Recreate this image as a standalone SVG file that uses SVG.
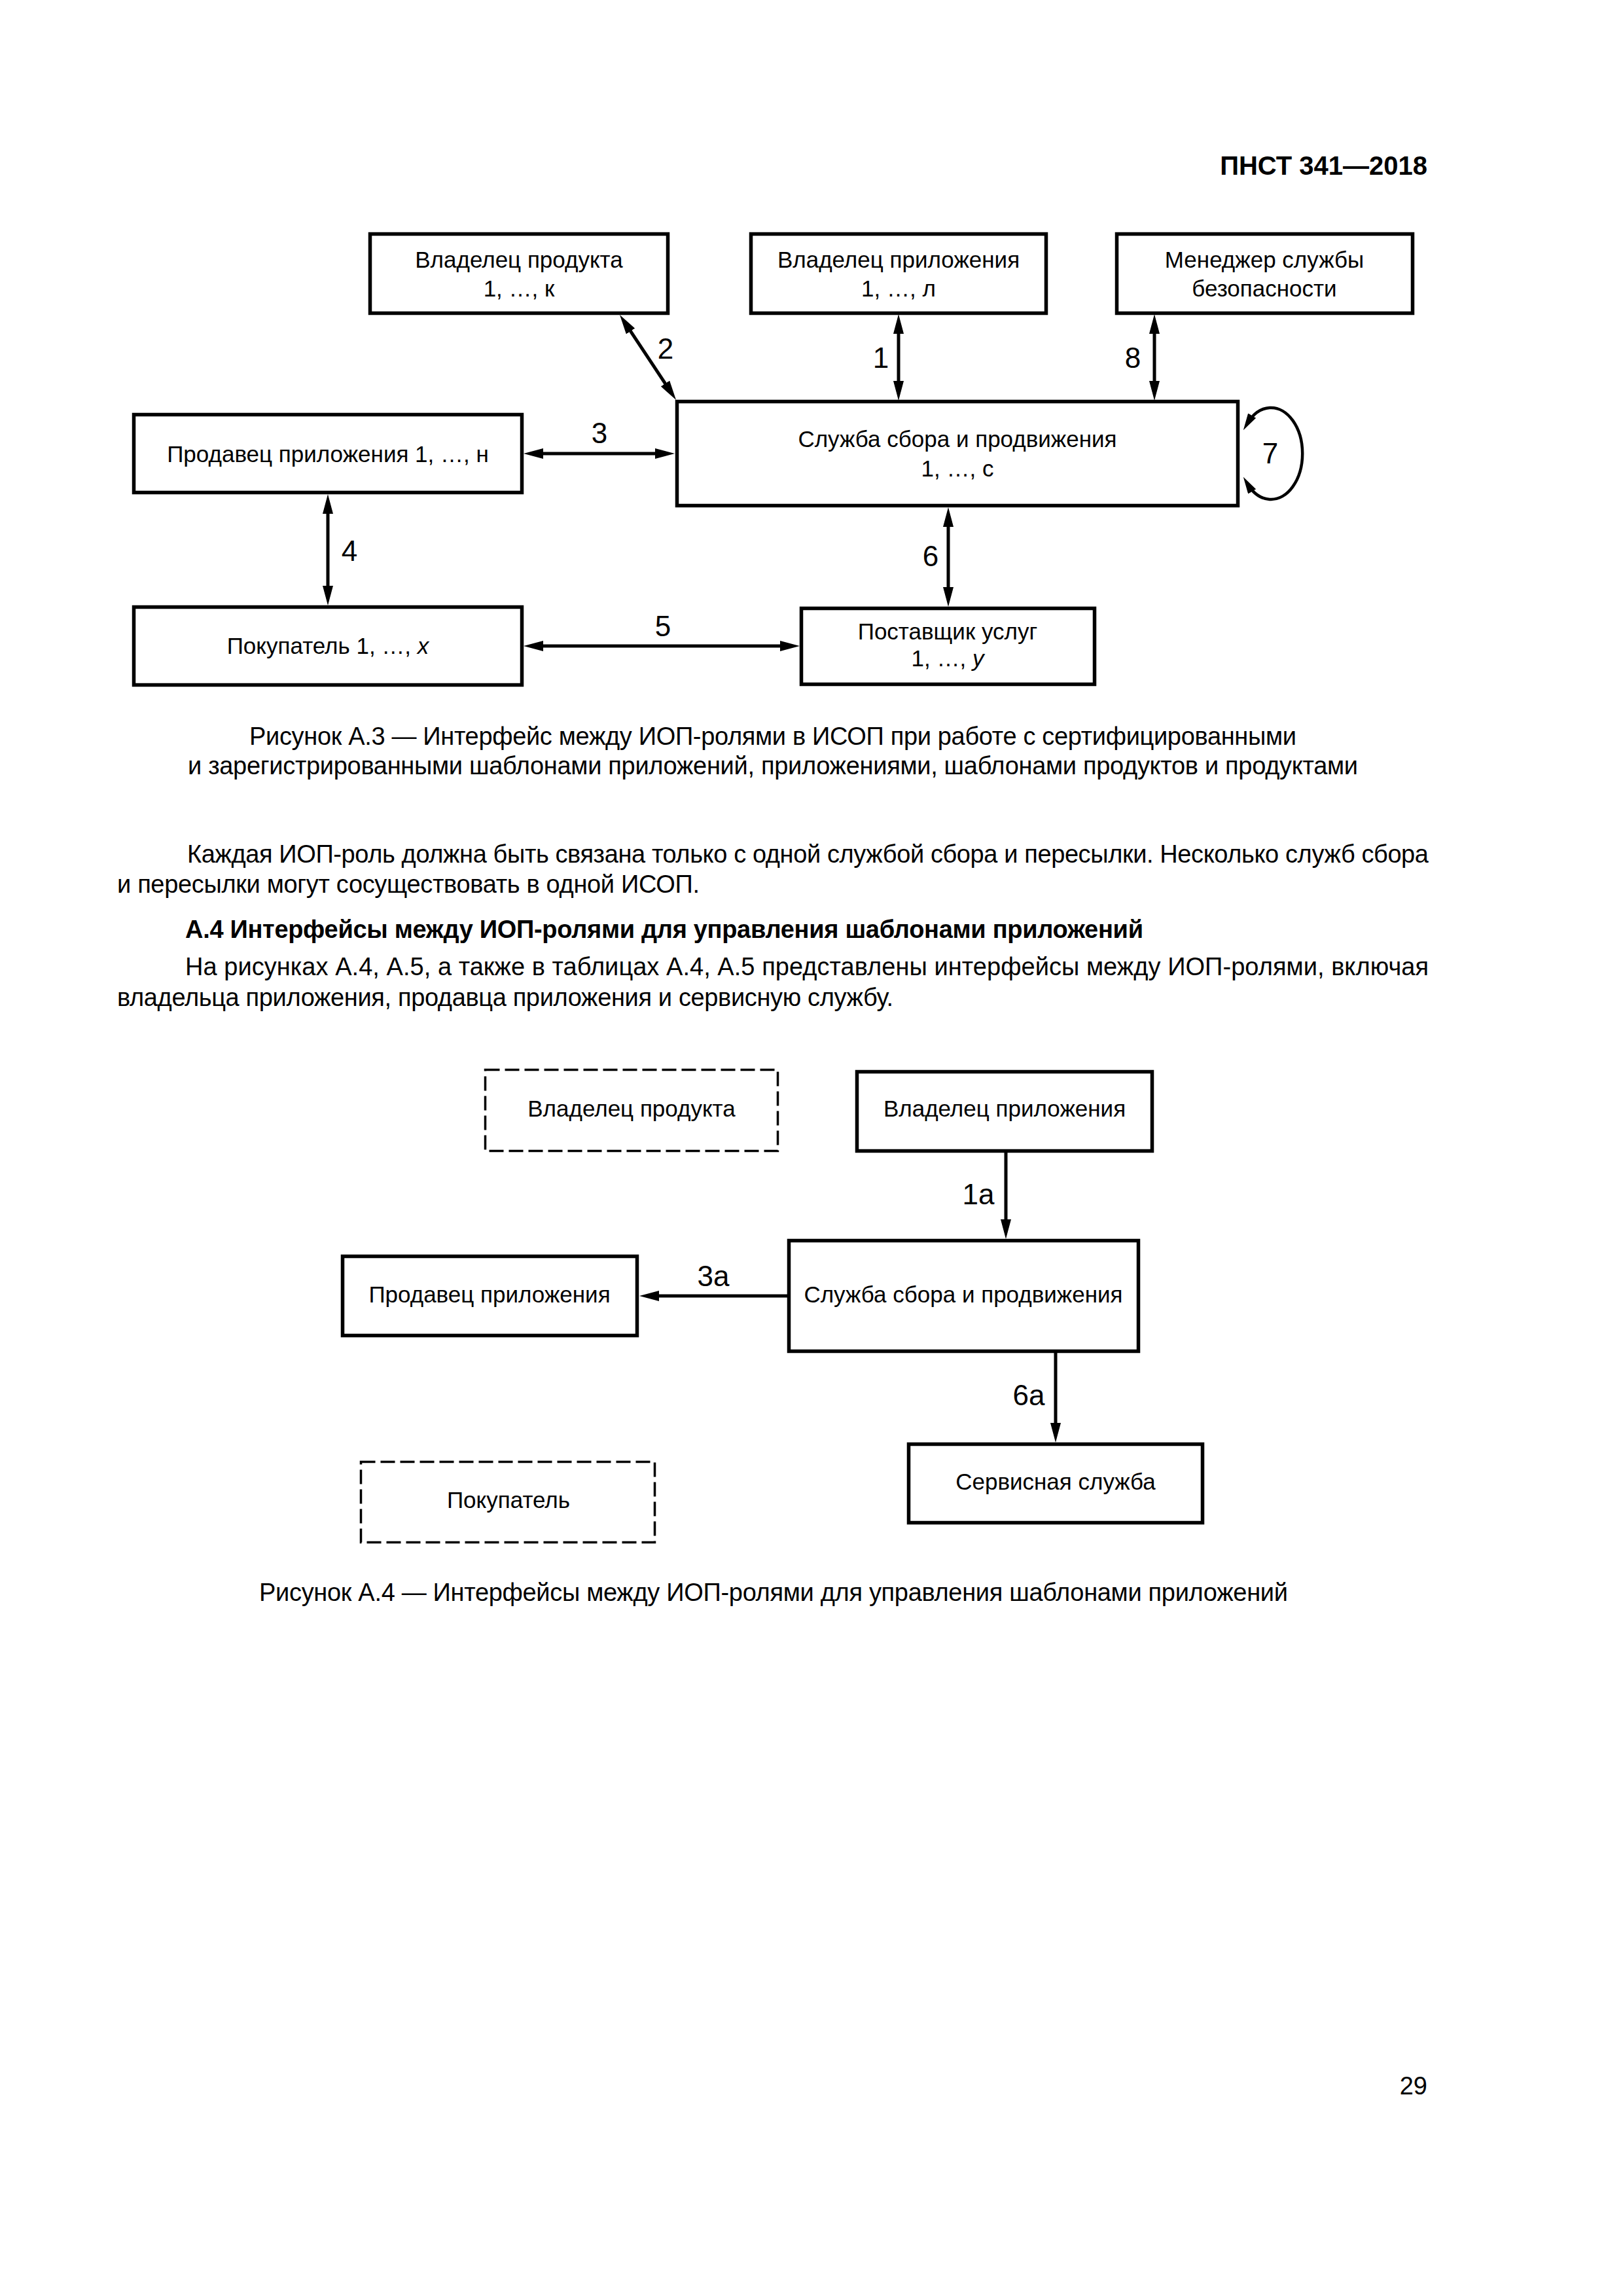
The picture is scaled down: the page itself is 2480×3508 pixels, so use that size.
<svg xmlns="http://www.w3.org/2000/svg" width="2480" height="3508" viewBox="0 0 2480 3508">
<style>
  .box{fill:#fff;stroke:#000;stroke-width:5.5}
  .dbox{fill:#fff;stroke:#000;stroke-width:3.5;stroke-dasharray:22 8}
  .conn{stroke:#000;stroke-width:5;fill:none}
  .t{font-family:"Liberation Sans",Arial,sans-serif;font-size:35px;text-anchor:middle;fill:#000}
  .lbl{font-family:"Liberation Sans",Arial,sans-serif;font-size:44px;text-anchor:middle;fill:#000}
  .body{font-family:"Liberation Sans",Arial,sans-serif;font-size:38px;fill:#000}
  .bold{font-weight:bold}
  .it{font-style:italic}
</style>
<defs>
  <marker id="arr" viewBox="0 0 30 16" refX="16" refY="8" markerWidth="30" markerHeight="16" markerUnits="userSpaceOnUse" orient="auto-start-reverse">
    <path d="M0,0 L30,8 L0,16 z" fill="#000"/>
  </marker>
  <marker id="arrs" viewBox="0 0 26 14" refX="14" refY="7" markerWidth="26" markerHeight="14" markerUnits="userSpaceOnUse" orient="auto-start-reverse">
    <path d="M0,0 L26,7 L0,14 z" fill="#000"/>
  </marker>
</defs>
<rect width="2480" height="3508" fill="#fff"/>

<text class="body bold" x="2181" y="267" text-anchor="end" style="font-size:40px">ПНСТ 341—2018</text>

<!-- Figure A.3 -->
<g id="a3-owner-product">
  <rect class="box" x="565.5" y="357.5" width="455" height="121"/>
  <text class="t" x="793" y="409">Владелец продукта</text>
  <text class="t" x="793" y="453">1, …, к</text>
</g>
<g id="a3-owner-app">
  <rect class="box" x="1147.5" y="357.5" width="451" height="121"/>
  <text class="t" x="1373" y="409">Владелец приложения</text>
  <text class="t" x="1373" y="453">1, …, л</text>
</g>
<g id="a3-security-manager">
  <rect class="box" x="1706.5" y="357.5" width="452" height="121"/>
  <text class="t" x="1932" y="409">Менеджер службы</text>
  <text class="t" x="1932" y="453">безопасности</text>
</g>
<g id="a3-collect-service">
  <rect class="box" x="1034.5" y="613.5" width="857" height="159"/>
  <text class="t" x="1463" y="683">Служба сбора и продвижения</text>
  <text class="t" x="1463" y="728">1, …, с</text>
</g>
<g id="a3-seller">
  <rect class="box" x="204.5" y="633.5" width="593" height="119"/>
  <text class="t" x="501" y="706">Продавец приложения 1, …, н</text>
</g>
<g id="a3-buyer">
  <rect class="box" x="204.5" y="927.5" width="593" height="119"/>
  <text class="t" x="501" y="999">Покупатель 1, …, <tspan class="it">х</tspan></text>
</g>
<g id="a3-provider">
  <rect class="box" x="1224.5" y="929.5" width="448" height="116"/>
  <text class="t" x="1448" y="977">Поставщик услуг</text>
  <text class="t" x="1448" y="1018">1, …, <tspan class="it">у</tspan></text>
</g>

<g id="a3-connectors">
  <line class="conn" x1="1373" y1="494" x2="1373" y2="598" marker-start="url(#arr)" marker-end="url(#arr)"/>
  <line class="conn" x1="1764" y1="494" x2="1764" y2="598" marker-start="url(#arr)" marker-end="url(#arr)"/>
  <line class="conn" x1="954.7" y1="492.7" x2="1025.3" y2="599.3" marker-start="url(#arr)" marker-end="url(#arr)"/>
  <line class="conn" x1="814" y1="693" x2="1017" y2="693" marker-start="url(#arr)" marker-end="url(#arr)"/>
  <line class="conn" x1="501" y1="769" x2="501" y2="911" marker-start="url(#arr)" marker-end="url(#arr)"/>
  <line class="conn" x1="814" y1="987" x2="1208" y2="987" marker-start="url(#arr)" marker-end="url(#arr)"/>
  <line class="conn" x1="1449" y1="789" x2="1449" y2="913" marker-start="url(#arr)" marker-end="url(#arr)"/>
  <path class="conn" style="stroke-width:4.5" d="M1906,647 A48,70 0 1 1 1906,739" marker-start="url(#arrs)" marker-end="url(#arrs)"/>
  <text class="lbl" x="1346" y="562">1</text>
  <text class="lbl" x="1017" y="548">2</text>
  <text class="lbl" x="916" y="677">3</text>
  <text class="lbl" x="534" y="857">4</text>
  <text class="lbl" x="1013" y="972">5</text>
  <text class="lbl" x="1422" y="865">6</text>
  <text class="lbl" x="1941" y="708">7</text>
  <text class="lbl" x="1731" y="562">8</text>
</g>

<text class="body" x="381" y="1138" textLength="1600">Рисунок А.3 — Интерфейс между ИОП-ролями в ИСОП при работе с сертифицированными</text>
<text class="body" x="287" y="1183" textLength="1788">и зарегистрированными шаблонами приложений, приложениями, шаблонами продуктов и продуктами</text>

<text class="body" x="286" y="1318" textLength="1897">Каждая ИОП-роль должна быть связана только с одной службой сбора и пересылки. Несколько служб сбора</text>
<text class="body" x="179" y="1364" textLength="890">и пересылки могут сосуществовать в одной ИСОП.</text>
<text class="body bold" x="283" y="1433" textLength="1464">А.4 Интерфейсы между ИОП-ролями для управления шаблонами приложений</text>
<text class="body" x="283" y="1490" textLength="1900">На рисунках А.4, А.5, а также в таблицах А.4, А.5 представлены интерфейсы между ИОП-ролями, включая</text>
<text class="body" x="179" y="1537" textLength="1186">владельца приложения, продавца приложения и сервисную службу.</text>

<!-- Figure A.4 -->
<g id="a4-owner-product">
  <rect class="dbox" x="741.5" y="1634.5" width="447" height="124"/>
  <text class="t" x="965" y="1706">Владелец продукта</text>
</g>
<g id="a4-owner-app">
  <rect class="box" x="1309.5" y="1637.5" width="451" height="121"/>
  <text class="t" x="1535" y="1706">Владелец приложения</text>
</g>
<g id="a4-collect-service">
  <rect class="box" x="1205.5" y="1895.5" width="534" height="169"/>
  <text class="t" x="1472" y="1990">Служба сбора и продвижения</text>
</g>
<g id="a4-seller">
  <rect class="box" x="523.5" y="1919.5" width="450" height="121"/>
  <text class="t" x="748" y="1990">Продавец приложения</text>
</g>
<g id="a4-service">
  <rect class="box" x="1388.5" y="2206.5" width="449" height="120"/>
  <text class="t" x="1613" y="2276">Сервисная служба</text>
</g>
<g id="a4-buyer">
  <rect class="dbox" x="551.5" y="2233.5" width="449" height="123"/>
  <text class="t" x="777" y="2304">Покупатель</text>
</g>

<g id="a4-connectors">
  <line class="conn" x1="1537" y1="1761" x2="1537" y2="1879" marker-end="url(#arr)"/>
  <line class="conn" x1="1203" y1="1980" x2="991" y2="1980" marker-end="url(#arr)"/>
  <line class="conn" x1="1613" y1="2067" x2="1613" y2="2190" marker-end="url(#arr)"/>
  <text class="lbl" x="1495" y="1840">1а</text>
  <text class="lbl" x="1090" y="1965">3а</text>
  <text class="lbl" x="1572" y="2147">6а</text>
</g>

<text class="body" x="396" y="2446" textLength="1572">Рисунок А.4 — Интерфейсы между ИОП-ролями для управления шаблонами приложений</text>

<text class="body" x="2181" y="3200" text-anchor="end">29</text>
</svg>
